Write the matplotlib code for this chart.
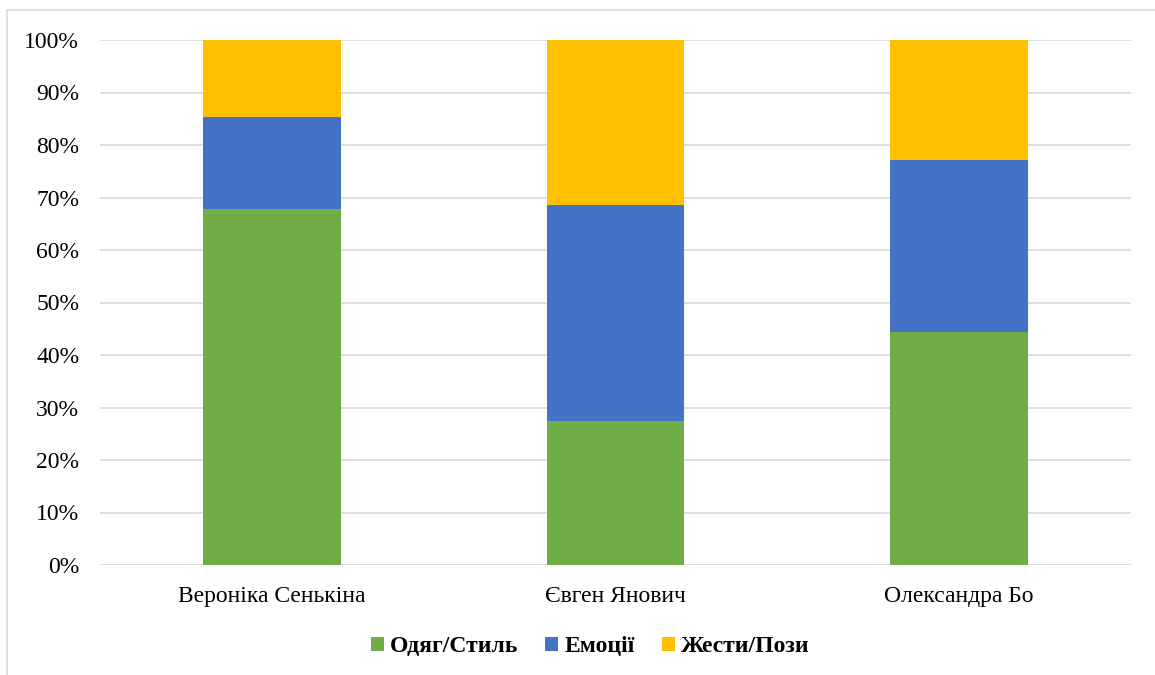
import matplotlib.pyplot as plt
from matplotlib.lines import Line2D
import numpy as np

plt.rcParams['font.family'] = ['Liberation Serif', 'DejaVu Serif']

names = ['Вероніка Сенькіна', 'Євген Янович', 'Олександра Бо']
series = ['Одяг/Стиль', 'Емоції', 'Жести/Пози']
clothes = [67.8, 27.4, 44.4]
emotions = [17.5, 41.2, 32.7]
gestures = [14.7, 31.4, 22.9]
colors = ['#70AD47', '#4472C4', '#FFC000']

fig = plt.figure(figsize=(11.55, 6.75), dpi=100)
ax = fig.add_axes([100 / 1155, 1 - 565 / 675, 1031 / 1155, 525 / 675])

x = np.arange(len(names))
bottom = np.zeros(len(names))
for vals, lab, c in zip([clothes, emotions, gestures], series, colors):
    ax.bar(x, vals, 0.4, bottom=bottom, color=c, label=lab, zorder=3)
    bottom += np.array(vals)

ax.set_xlim(-0.5, 2.5)
ax.set_ylim(0, 100)
ax.set_yticks(range(0, 101, 10))
ax.set_yticklabels([f'{v}%' for v in range(0, 101, 10)])
ax.set_xticks(x)
ax.set_xticklabels(names)
ax.tick_params(length=0, labelsize=17, colors='black')
ax.tick_params(axis='y', pad=15)
ax.tick_params(axis='x', pad=15)
ax.grid(axis='y', color='#D9D9D9', linewidth=1.2, zorder=0)
for s in ax.spines.values():
    s.set_visible(False)

leg = ax.legend(loc='center', bbox_to_anchor=(590 / 1155, 1 - 647 / 675),
                bbox_transform=fig.transFigure, ncol=3, frameon=False,
                prop={'weight': 'bold', 'size': 17}, handlelength=0.55,
                handleheight=0.55, handletextpad=0.25, columnspacing=1.15)

# outer border (left and top only visible)
fig.add_artist(Line2D([7 / 1155, 7 / 1155], [0, 1 - 10 / 675], color='#D9D9D9', linewidth=1.2))
fig.add_artist(Line2D([7 / 1155, 1], [1 - 10 / 675, 1 - 10 / 675], color='#D9D9D9', linewidth=1.2))

fig.savefig('out.png', dpi=100)
